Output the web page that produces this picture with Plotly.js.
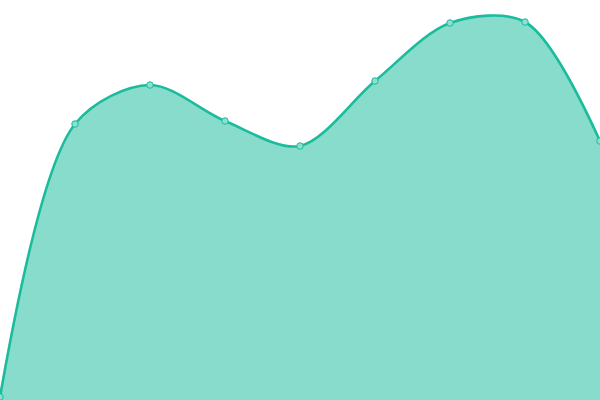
<!DOCTYPE html>
<html>
<head>
<meta charset="utf-8">
<script src="https://cdn.plot.ly/plotly-3.0.1.min.js"></script>
<style>
  html, body { margin: 0; padding: 0; background: #ffffff; }
  #chart { width: 600px; height: 400px; }
</style>
</head>
<body>
<div id="chart"></div>
<script>
  // Values (y scale 0..400).
  const xs = [0, 1, 2, 3, 4, 5, 6, 7, 8];
  const values = [3, 276, 315, 279, 254, 319, 377, 378, 259];

  const LINE = "#1abc9c";
  const FILL = "rgba(26,188,156,0.52)";

  const trace = {
    x: xs,
    y: values,
    type: "scatter",
    mode: "lines+markers",
    line: { color: LINE, width: 2.6, shape: "spline", smoothing: 0.9 },
    marker: { color: "#8ce0cf", size: 6.5, line: { color: LINE, width: 1 } },
    fill: "tozeroy",
    fillcolor: FILL,
    hoverinfo: "skip",
  };

  const layout = {
    width: 600,
    height: 400,
    margin: { l: 0, r: 0, t: 0, b: 0 },
    paper_bgcolor: "#ffffff",
    plot_bgcolor: "#ffffff",
    showlegend: false,
    xaxis: { range: [0, 8], visible: false, fixedrange: true },
    yaxis: { range: [0, 400], visible: false, fixedrange: true },
  };

  Plotly.newPlot("chart", [trace], layout, { displayModeBar: false, staticPlot: true });
</script>
</body>
</html>
